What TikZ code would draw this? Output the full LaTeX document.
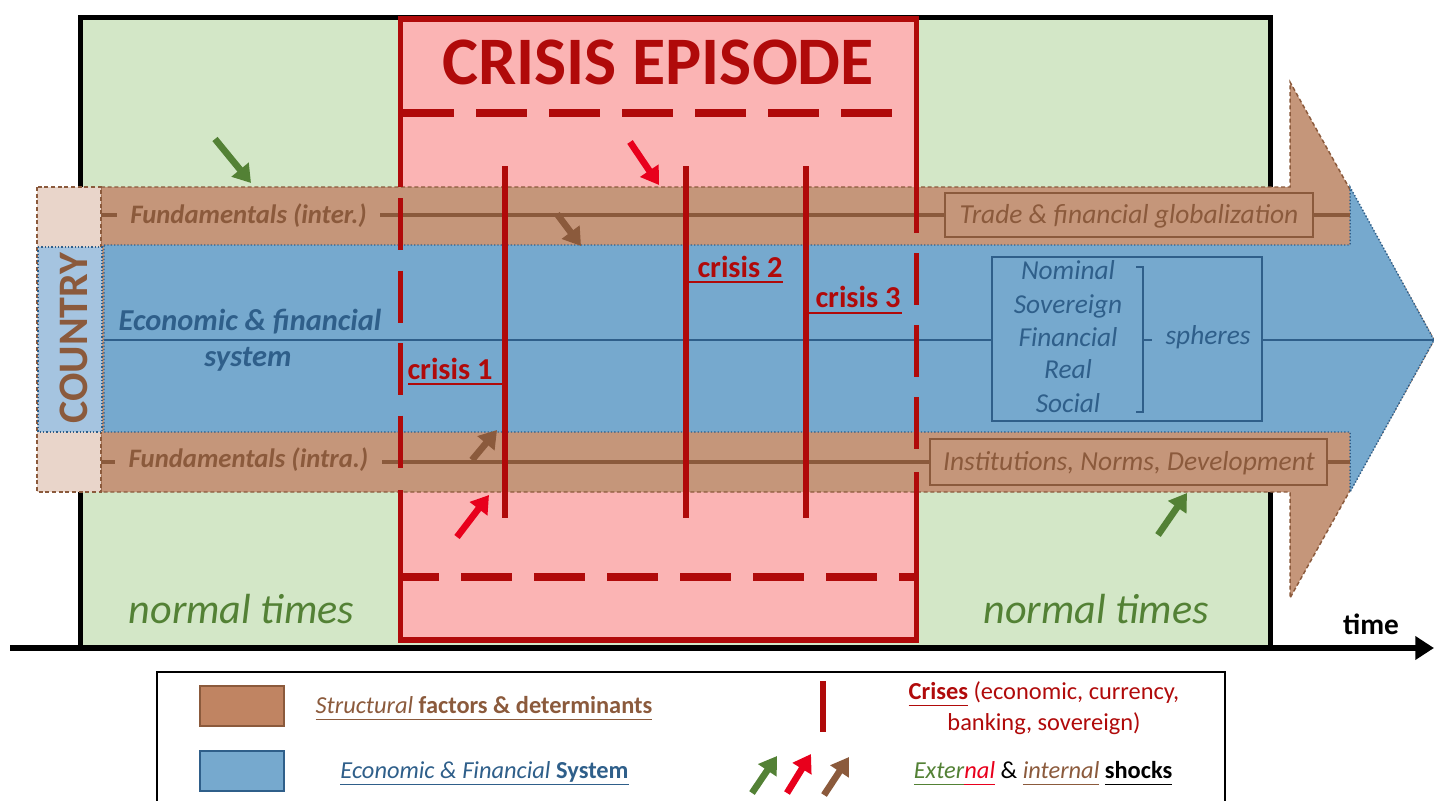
\documentclass[tikz,border=0pt]{standalone}
\usepackage{fontspec}
\setmainfont{Carlito}
\usetikzlibrary{arrows.meta}
\definecolor{normgreen}{HTML}{D3E7C7}
\definecolor{crisispink}{HTML}{FBB4B4}
\definecolor{crisisred}{HTML}{B00A0A}
\definecolor{shockred}{HTML}{E8001C}
\definecolor{shockgreen}{HTML}{538135}
\definecolor{brownline}{HTML}{8B5A3C}
\definecolor{bandbrown}{HTML}{C5967A}
\definecolor{swatchbrown}{HTML}{C08462}
\definecolor{countrylight}{HTML}{E9D5CA}
\definecolor{countryblue}{HTML}{A5C4E0}
\definecolor{bandblue}{HTML}{76A9CE}
\definecolor{darkblue}{HTML}{2F5F8A}
\newcommand\fsz[2]{\fontsize{#1}{#2}\selectfont}
\newcommand\myul[1]{\underline{#1\vphantom{y}}}
\begin{document}
\begin{tikzpicture}[x=0.75pt,y=-0.75pt,
  every node/.style={inner sep=0pt, outer sep=0pt},
  shock/.style={line width=5pt, -{Triangle[length=13pt,width=16pt]}},
  crisisline/.style={draw=crisisred, line width=4.2pt},
  crisisborder/.style={draw=crisisred, line width=4.2pt},
  crisisdash/.style={draw=crisisred, line width=5.5pt, dash pattern=on 38.25pt off 16.5pt},
  brownrule/.style={draw=brownline, line width=2.6pt},
  bandedge/.style={draw=brownline, line width=1.1pt, dash pattern=on 3pt off 2pt},
  blueedge/.style={draw=darkblue, line width=1.1pt, dash pattern=on 1pt off 1.5pt},
  fundlabel/.style={font=\fsz{20}{24}\bfseries\itshape, text=brownline, fill=bandbrown, inner xsep=10pt, inner ysep=3pt, anchor=base},
  econlabel/.style={font=\fsz{22.8}{27}\bfseries\itshape, text=darkblue, anchor=base},
  boxlabel/.style={font=\fsz{20.6}{24}\itshape, text=brownline, anchor=base},
  brownbox/.style={draw=brownline, line width=2.2pt, fill=bandbrown},
  sphere/.style={font=\fsz{20.5}{24}\itshape, text=darkblue, anchor=base},
  crisislabel/.style={font=\fsz{22.8}{27}\bfseries, text=crisisred, anchor=base},
  normlabel/.style={font=\fsz{31.6}{36}\itshape, text=shockgreen, anchor=base},
  legtext/.style={font=\fsz{18.3}{22}, anchor=base},
  swatch/.style={line width=1.5pt, minimum width=63pt, minimum height=30pt}
]
\useasboundingbox (0,0) rectangle (1434,800);

% normal times background
\fill[normgreen] (80,17) rectangle (1270,648);
\draw[line width=3.75pt] (80,648) -- (80,17) -- (1270,17) -- (1270,648);

% crisis episode background
\fill[crisispink] (400.5,19) rectangle (916.5,640);
\node[font=\fsz{51}{58}\bfseries, text=crisisred, anchor=base] (title) at (658,84) {CRISIS EPISODE};
\draw[crisisdash] (403,113) -- (914,113);
\draw[crisisdash, dash phase=11.25pt] (403,577) -- (914,577);

% brown structural arrow
\filldraw[fill=bandbrown, bandedge] (101,187) -- (1290,187) -- (1290,82) -- (1434,340) -- (1290,598) -- (1290,492) -- (101,492) -- cycle;

% country box
\filldraw[fill=countrylight, bandedge] (37,187) rectangle (101,492);
\filldraw[fill=countryblue, blueedge] (38,247) rectangle (102,432);
\node[rotate=90, font=\fsz{31.5}{36}\bfseries, text=brownline, anchor=base] (country) at (87,338) {COUNTRY};

% blue system arrow
\filldraw[fill=bandblue, blueedge] (104,245) -- (1350,245) -- (1350,187) -- (1434,340) -- (1350,492) -- (1350,432) -- (104,432) -- cycle;

% axis lines
\coordinate (topL) at (101,215);
\coordinate (topR) at (1350,215);
\coordinate (botL) at (101,462);
\coordinate (botR) at (1350,462);
\coordinate (midL) at (104,340);
\coordinate (midR) at (1434,340);
\draw[brownrule] (topL) -- (topR);
\draw[brownrule] (botL) -- (botR);
\draw[draw=darkblue, line width=1.5pt] (midL) -- (midR);

% labels in bands
\node[fundlabel] (fundinter) at (248.5,223) {Fundamentals (inter.)};
\node[fundlabel] (fundintra) at (248.5,467) {Fundamentals (intra.)};
\node[econlabel] (econ1) at (250,330) {Economic \& financial};
\node[econlabel] (econ2) at (248,366) {system};

\node[brownbox, minimum width=276pt, minimum height=33pt] (tradebox) at (1129,215) {};
\node[boxlabel] (trade) at (1129,223) {Trade \& financial globalization};
\node[brownbox, minimum width=297.75pt, minimum height=34.5pt] (instbox) at (1128.5,462) {};
\node[boxlabel] (inst) at (1129,470) {Institutions, Norms, Development};

% spheres
\node[draw=darkblue, line width=1.1pt, fill=bandblue, minimum width=202.5pt, minimum height=123pt] (spherebox) at (1127,339) {};
\node[sphere] (s1) at (1068,279) {Nominal};
\node[sphere] (s2) at (1068,313) {Sovereign};
\node[sphere] (s3) at (1068,346) {Financial};
\node[sphere] (s4) at (1068,378) {Real};
\node[sphere] (s5) at (1068,412) {Social};
\node[sphere] (sph) at (1208,344) {spheres};
\draw[darkblue, line width=1.3pt] (1136,267) -- (1143,267) -- (1143,412) -- (1136,412);
\draw[darkblue, line width=1.3pt] (1143,340) -- (1152,340);

% crisis episode borders
\draw[crisisborder] (400.5,187) -- (400.5,19) -- (916.5,19) -- (916.5,233);
\draw[crisisborder] (400.5,490) -- (400.5,640) -- (916.5,640) -- (916.5,472);
\draw[crisisborder, dash pattern=on 39pt off 15.4pt] (400.5,198) -- (400.5,468);
\draw[crisisborder, dash pattern=on 39pt off 15pt] (916.5,253) -- (916.5,452);

% crises
\draw[crisisline] (505,166) -- (505,518);
\draw[crisisline] (686,166) -- (686,518);
\draw[crisisline] (806,166) -- (806,518);
\node[crisislabel] (c1) at (450,379) {crisis 1};
\node[crisislabel] (c2) at (740,277) {crisis 2};
\node[crisislabel] (c3) at (858,307) {crisis 3};
\draw[crisisred, line width=1.6pt] (408,384) -- (505,384);
\draw[crisisred, line width=1.6pt] (686,282) -- (783,282);
\draw[crisisred, line width=1.6pt] (803,313) -- (902,313);

% shocks
\draw[shock, shockgreen] (215,139) -- (251,183);
\draw[shock, shockred] (630,142) -- (659,185);
\draw[shock, brownline] (557,214) -- (581,246);
\draw[shock, brownline] (472,460) -- (497,430);
\draw[shock, shockred] (457,537) -- (489,495);
\draw[shock, shockgreen] (1158,535) -- (1187,493);

% time axis
\draw[line width=5pt, -{Triangle[length=14pt,width=17pt]}] (10,648) -- (1434,648);
\node[font=\fsz{22}{26}\bfseries, anchor=base] (time) at (1371,634) {time};
\node[normlabel] (norm1) at (241.5,623) {normal times};
\node[normlabel] (norm2) at (1096,623) {normal times};

% legend
\draw[line width=1.2pt] (157,810) -- (157,672) -- (1225,672) -- (1225,810);
\node[swatch, draw=brownline, fill=swatchbrown] (swb) at (242,706) {};
\node[swatch, draw=darkblue, fill=bandblue] (swl) at (242,771) {};
\node[legtext, text=brownline] (legS) at (484,713) {\myul{\textit{Structural} \textbf{factors \& determinants}}};
\node[legtext, text=darkblue] (legE) at (484.5,778) {\myul{\textit{Economic \& Financial} \textbf{System}}};
\draw[crisisline] (823,681) -- (823,732);
\node[legtext, text=crisisred] (legC1) at (1044,699) {\myul{\textbf{Crises}} (economic, currency,};
\node[legtext, text=crisisred] (legC2) at (1044,730) {banking, sovereign)};
\draw[shock, shockgreen] (752,793) -- (777,756);
\draw[shock, shockred] (787,793) -- (811,754);
\draw[shock, brownline] (824,795) -- (849,757);
\node[legtext] (legK) at (1043,778) {{\color{shockgreen}\myul{\textit{Exter}}}{\color{shockred}\myul{\textit{nal}}} \& {\color{brownline}\myul{\textit{internal}}} \myul{\textbf{shocks}}};
\end{tikzpicture}
\end{document}
